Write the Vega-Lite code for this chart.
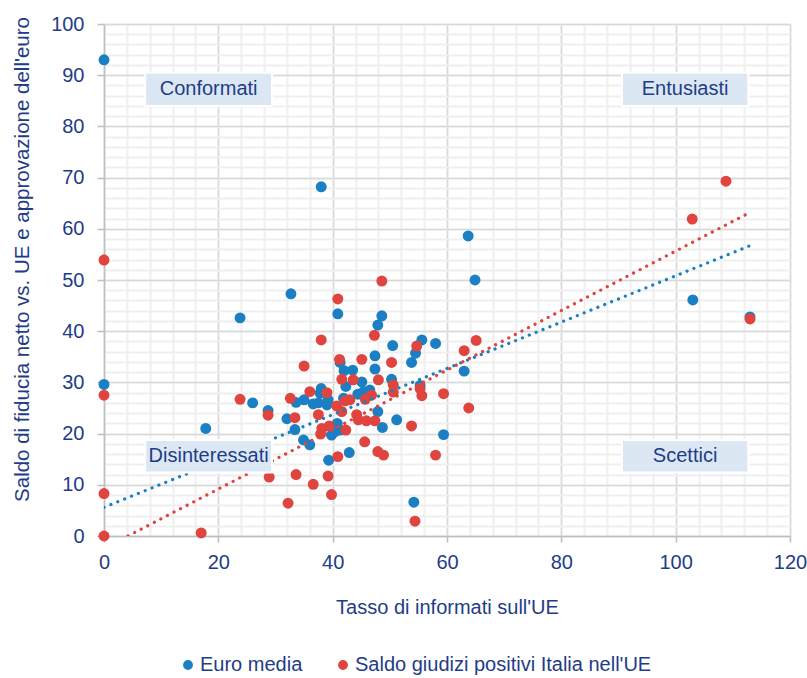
{
  "$schema": "https://vega.github.io/schema/vega-lite/v6.json",
  "width": 686,
  "height": 512,
  "autosize": "none",
  "padding": {"left": 104, "top": 24, "right": 17, "bottom": 142},
  "background": "white",
  "config": {
    "font": "Liberation Sans, Arial, sans-serif",
    "view": {"stroke": null}
  },
  "datasets": {
    "pts": [
      {"serie": "Euro media", "informati": 0, "saldo": 93},
      {"serie": "Euro media", "informati": 0, "saldo": 29.6},
      {"serie": "Euro media", "informati": 17.8, "saldo": 21},
      {"serie": "Euro media", "informati": 23.8, "saldo": 42.6},
      {"serie": "Euro media", "informati": 26, "saldo": 26},
      {"serie": "Euro media", "informati": 28.7, "saldo": 24.5},
      {"serie": "Euro media", "informati": 32, "saldo": 22.9},
      {"serie": "Euro media", "informati": 32.7, "saldo": 47.3},
      {"serie": "Euro media", "informati": 33.4, "saldo": 20.8},
      {"serie": "Euro media", "informati": 33.6, "saldo": 26.1},
      {"serie": "Euro media", "informati": 34.9, "saldo": 18.75},
      {"serie": "Euro media", "informati": 35, "saldo": 26.6},
      {"serie": "Euro media", "informati": 36, "saldo": 17.8},
      {"serie": "Euro media", "informati": 36.6, "saldo": 25.8},
      {"serie": "Euro media", "informati": 37.5, "saldo": 26},
      {"serie": "Euro media", "informati": 37.8, "saldo": 27.9},
      {"serie": "Euro media", "informati": 38, "saldo": 28.8},
      {"serie": "Euro media", "informati": 38, "saldo": 68.2},
      {"serie": "Euro media", "informati": 39, "saldo": 25.6},
      {"serie": "Euro media", "informati": 39.2, "saldo": 26.6},
      {"serie": "Euro media", "informati": 39.3, "saldo": 14.8},
      {"serie": "Euro media", "informati": 39.8, "saldo": 19.7},
      {"serie": "Euro media", "informati": 40.4, "saldo": 20.4},
      {"serie": "Euro media", "informati": 40.8, "saldo": 22},
      {"serie": "Euro media", "informati": 40.9, "saldo": 43.4},
      {"serie": "Euro media", "informati": 41.3, "saldo": 20.7},
      {"serie": "Euro media", "informati": 41.3, "saldo": 33.9},
      {"serie": "Euro media", "informati": 41.9, "saldo": 26.9},
      {"serie": "Euro media", "informati": 42, "saldo": 32.3},
      {"serie": "Euro media", "informati": 42.3, "saldo": 29.2},
      {"serie": "Euro media", "informati": 42.9, "saldo": 16.3},
      {"serie": "Euro media", "informati": 43.5, "saldo": 32.4},
      {"serie": "Euro media", "informati": 44.4, "saldo": 27.7},
      {"serie": "Euro media", "informati": 45.1, "saldo": 30.1},
      {"serie": "Euro media", "informati": 45.4, "saldo": 28.2},
      {"serie": "Euro media", "informati": 46.5, "saldo": 28.5},
      {"serie": "Euro media", "informati": 47.4, "saldo": 35.2},
      {"serie": "Euro media", "informati": 47.4, "saldo": 32.6},
      {"serie": "Euro media", "informati": 47.9, "saldo": 24.3},
      {"serie": "Euro media", "informati": 47.9, "saldo": 41.2},
      {"serie": "Euro media", "informati": 48.6, "saldo": 43},
      {"serie": "Euro media", "informati": 48.7, "saldo": 21.2},
      {"serie": "Euro media", "informati": 50.3, "saldo": 30.6},
      {"serie": "Euro media", "informati": 50.5, "saldo": 37.2},
      {"serie": "Euro media", "informati": 51.2, "saldo": 22.7},
      {"serie": "Euro media", "informati": 53.8, "saldo": 33.9},
      {"serie": "Euro media", "informati": 54.5, "saldo": 35.7},
      {"serie": "Euro media", "informati": 54.2, "saldo": 6.6},
      {"serie": "Euro media", "informati": 55.3, "saldo": 29.4},
      {"serie": "Euro media", "informati": 55.6, "saldo": 38.3},
      {"serie": "Euro media", "informati": 58, "saldo": 37.6},
      {"serie": "Euro media", "informati": 59.4, "saldo": 19.8},
      {"serie": "Euro media", "informati": 63, "saldo": 32.2},
      {"serie": "Euro media", "informati": 63.7, "saldo": 58.6},
      {"serie": "Euro media", "informati": 64.9, "saldo": 50},
      {"serie": "Euro media", "informati": 103, "saldo": 46.1},
      {"serie": "Euro media", "informati": 113, "saldo": 42.8},
      {"serie": "Saldo giudizi positivi Italia nell'UE", "informati": 0, "saldo": 53.9},
      {"serie": "Saldo giudizi positivi Italia nell'UE", "informati": 0, "saldo": 27.5},
      {"serie": "Saldo giudizi positivi Italia nell'UE", "informati": 0, "saldo": 8.3},
      {"serie": "Saldo giudizi positivi Italia nell'UE", "informati": 0, "saldo": 0},
      {"serie": "Saldo giudizi positivi Italia nell'UE", "informati": 17, "saldo": 0.6},
      {"serie": "Saldo giudizi positivi Italia nell'UE", "informati": 23.8, "saldo": 26.7},
      {"serie": "Saldo giudizi positivi Italia nell'UE", "informati": 28.7, "saldo": 23.6},
      {"serie": "Saldo giudizi positivi Italia nell'UE", "informati": 28.9, "saldo": 11.5},
      {"serie": "Saldo giudizi positivi Italia nell'UE", "informati": 32.2, "saldo": 6.4},
      {"serie": "Saldo giudizi positivi Italia nell'UE", "informati": 32.6, "saldo": 26.9},
      {"serie": "Saldo giudizi positivi Italia nell'UE", "informati": 33.4, "saldo": 23.1},
      {"serie": "Saldo giudizi positivi Italia nell'UE", "informati": 33.6, "saldo": 12},
      {"serie": "Saldo giudizi positivi Italia nell'UE", "informati": 35, "saldo": 33.2},
      {"serie": "Saldo giudizi positivi Italia nell'UE", "informati": 36, "saldo": 28.2},
      {"serie": "Saldo giudizi positivi Italia nell'UE", "informati": 36.6, "saldo": 10.1},
      {"serie": "Saldo giudizi positivi Italia nell'UE", "informati": 37.5, "saldo": 23.7},
      {"serie": "Saldo giudizi positivi Italia nell'UE", "informati": 37.9, "saldo": 19.9},
      {"serie": "Saldo giudizi positivi Italia nell'UE", "informati": 38, "saldo": 38.3},
      {"serie": "Saldo giudizi positivi Italia nell'UE", "informati": 38.1, "saldo": 21},
      {"serie": "Saldo giudizi positivi Italia nell'UE", "informati": 39, "saldo": 28},
      {"serie": "Saldo giudizi positivi Italia nell'UE", "informati": 39.2, "saldo": 11.7},
      {"serie": "Saldo giudizi positivi Italia nell'UE", "informati": 39.4, "saldo": 21.5},
      {"serie": "Saldo giudizi positivi Italia nell'UE", "informati": 39.8, "saldo": 8.1},
      {"serie": "Saldo giudizi positivi Italia nell'UE", "informati": 40.7, "saldo": 25.4},
      {"serie": "Saldo giudizi positivi Italia nell'UE", "informati": 40.9, "saldo": 15.5},
      {"serie": "Saldo giudizi positivi Italia nell'UE", "informati": 40.9, "saldo": 46.3},
      {"serie": "Saldo giudizi positivi Italia nell'UE", "informati": 41.2, "saldo": 34.5},
      {"serie": "Saldo giudizi positivi Italia nell'UE", "informati": 41.6, "saldo": 30.6},
      {"serie": "Saldo giudizi positivi Italia nell'UE", "informati": 41.6, "saldo": 24.3},
      {"serie": "Saldo giudizi positivi Italia nell'UE", "informati": 42.2, "saldo": 26.4},
      {"serie": "Saldo giudizi positivi Italia nell'UE", "informati": 42.3, "saldo": 20.7},
      {"serie": "Saldo giudizi positivi Italia nell'UE", "informati": 43, "saldo": 26.6},
      {"serie": "Saldo giudizi positivi Italia nell'UE", "informati": 43.6, "saldo": 30.5},
      {"serie": "Saldo giudizi positivi Italia nell'UE", "informati": 44.2, "saldo": 23.7},
      {"serie": "Saldo giudizi positivi Italia nell'UE", "informati": 44.5, "saldo": 22.7},
      {"serie": "Saldo giudizi positivi Italia nell'UE", "informati": 45.1, "saldo": 34.5},
      {"serie": "Saldo giudizi positivi Italia nell'UE", "informati": 45.6, "saldo": 18.4},
      {"serie": "Saldo giudizi positivi Italia nell'UE", "informati": 45.7, "saldo": 26.7},
      {"serie": "Saldo giudizi positivi Italia nell'UE", "informati": 45.9, "saldo": 22.5},
      {"serie": "Saldo giudizi positivi Italia nell'UE", "informati": 46.8, "saldo": 27.5},
      {"serie": "Saldo giudizi positivi Italia nell'UE", "informati": 47.3, "saldo": 39.2},
      {"serie": "Saldo giudizi positivi Italia nell'UE", "informati": 47.4, "saldo": 22.5},
      {"serie": "Saldo giudizi positivi Italia nell'UE", "informati": 47.9, "saldo": 16.5},
      {"serie": "Saldo giudizi positivi Italia nell'UE", "informati": 48, "saldo": 30.5},
      {"serie": "Saldo giudizi positivi Italia nell'UE", "informati": 48.6, "saldo": 49.8},
      {"serie": "Saldo giudizi positivi Italia nell'UE", "informati": 48.9, "saldo": 15.8},
      {"serie": "Saldo giudizi positivi Italia nell'UE", "informati": 50.3, "saldo": 33.9},
      {"serie": "Saldo giudizi positivi Italia nell'UE", "informati": 50.6, "saldo": 29.5},
      {"serie": "Saldo giudizi positivi Italia nell'UE", "informati": 50.6, "saldo": 28.1},
      {"serie": "Saldo giudizi positivi Italia nell'UE", "informati": 53.8, "saldo": 21.5},
      {"serie": "Saldo giudizi positivi Italia nell'UE", "informati": 54.4, "saldo": 2.9},
      {"serie": "Saldo giudizi positivi Italia nell'UE", "informati": 54.7, "saldo": 37.1},
      {"serie": "Saldo giudizi positivi Italia nell'UE", "informati": 55.3, "saldo": 28.8},
      {"serie": "Saldo giudizi positivi Italia nell'UE", "informati": 55.6, "saldo": 27.4},
      {"serie": "Saldo giudizi positivi Italia nell'UE", "informati": 58, "saldo": 15.8},
      {"serie": "Saldo giudizi positivi Italia nell'UE", "informati": 59.4, "saldo": 27.8},
      {"serie": "Saldo giudizi positivi Italia nell'UE", "informati": 63, "saldo": 36.2},
      {"serie": "Saldo giudizi positivi Italia nell'UE", "informati": 63.8, "saldo": 25},
      {"serie": "Saldo giudizi positivi Italia nell'UE", "informati": 65.1, "saldo": 38.2},
      {"serie": "Saldo giudizi positivi Italia nell'UE", "informati": 102.9, "saldo": 61.9},
      {"serie": "Saldo giudizi positivi Italia nell'UE", "informati": 108.8, "saldo": 69.3},
      {"serie": "Saldo giudizi positivi Italia nell'UE", "informati": 113, "saldo": 42.4}
    ],
    "trend": [
      {"serie": "Euro media", "informati": 0, "saldo": 5.6},
      {"serie": "Euro media", "informati": 113, "saldo": 56.7},
      {"serie": "Saldo giudizi positivi Italia nell'UE", "informati": 4.2, "saldo": 0},
      {"serie": "Saldo giudizi positivi Italia nell'UE", "informati": 113, "saldo": 63.2}
    ],
    "boxes": [
      {"label": "Conformati", "x1": 7.2, "x2": 29.4, "y1": 84.0, "y2": 90.5, "xc": 18.3, "yc": 87.25},
      {"label": "Entusiasti", "x1": 90.6, "x2": 112.7, "y1": 84.0, "y2": 90.5, "xc": 101.65, "yc": 87.25},
      {"label": "Disinteressati", "x1": 7.2, "x2": 29.4, "y1": 12.4, "y2": 18.75, "xc": 18.3, "yc": 15.6},
      {"label": "Scettici", "x1": 90.6, "x2": 112.7, "y1": 12.4, "y2": 18.75, "xc": 101.65, "yc": 15.6}
    ]
  },
  "layer": [
    {
      "data": {"name": "pts"},
      "mark": {"type": "point", "opacity": 0},
      "encoding": {
        "x": {
          "field": "informati", "type": "quantitative",
          "scale": {"domain": [0, 120], "nice": false, "zero": false},
          "axis": {
            "orient": "top", "values": [0,4,8,12,16,20,24,28,32,36,40,44,48,52,56,60,64,68,72,76,80,84,88,92,96,100,104,108,112,116,120],
            "grid": true, "gridColor": "#efefef", "gridWidth": 2,
            "labels": false, "ticks": false, "domain": false, "title": null
          }
        },
        "y": {
          "field": "saldo", "type": "quantitative",
          "scale": {"domain": [0, 100], "nice": false},
          "axis": {
            "orient": "right", "values": [0,2,4,6,8,10,12,14,16,18,20,22,24,26,28,30,32,34,36,38,40,42,44,46,48,50,52,54,56,58,60,62,64,66,68,70,72,74,76,78,80,82,84,86,88,90,92,94,96,98,100],
            "grid": true, "gridColor": "#efefef", "gridWidth": 2,
            "labels": false, "ticks": false, "domain": false, "title": null
          }
        }
      }
    },
    {
      "data": {"name": "pts"},
      "mark": {"type": "circle", "size": 120, "opacity": 1},
      "encoding": {
        "x": {
          "field": "informati", "type": "quantitative",
          "axis": {
            "orient": "bottom", "values": [0, 20, 40, 60, 80, 100, 120],
            "grid": true, "gridColor": "#d9d9d9", "gridWidth": 1.5,
            "domainColor": "#bfbfbf", "domainWidth": 1.5,
            "tickColor": "#bfbfbf", "tickSize": 6, "tickWidth": 1.5,
            "labelFontSize": 20, "labelColor": "#1f3c88", "labelPadding": 10, "labelFlush": false, "labelOverlap": false,
            "title": "Tasso di informati sull'UE",
            "titleFontSize": 20, "titleFontWeight": "normal", "titleColor": "#1f3c88",
            "titleX": 343, "titleY": 71, "titleBaseline": "middle", "titleAnchor": null, "titleAlign": "center"
          }
        },
        "y": {
          "field": "saldo", "type": "quantitative",
          "axis": {
            "orient": "left", "values": [0, 10, 20, 30, 40, 50, 60, 70, 80, 90, 100],
            "grid": true, "gridColor": "#d9d9d9", "gridWidth": 1.5,
            "domainColor": "#bfbfbf", "domainWidth": 1.5,
            "tickColor": "#bfbfbf", "tickSize": 7, "tickWidth": 1.5,
            "labelFontSize": 20, "labelColor": "#1f3c88", "labelPadding": 13, "labelFlush": false, "labelOverlap": false,
            "title": "Saldo di fiducia netto vs. UE e approvazione dell'euro",
            "titleFontSize": 20.5, "titleFontWeight": "normal", "titleColor": "#1f3c88", "titleLimit": 600,
            "titleX": -82, "titleY": 235, "titleAngle": 270, "titleBaseline": "middle", "titleAlign": "center", "titleAnchor": null
          }
        },
        "color": {
          "field": "serie", "type": "nominal",
          "scale": {"domain": ["Euro media", "Saldo giudizi positivi Italia nell'UE"], "range": ["#1b7fc3", "#e0443e"]},
          "legend": {
            "orient": "none", "direction": "horizontal", "legendX": 74, "legendY": 631,
            "title": null, "symbolType": "circle", "symbolSize": 70, "symbolOpacity": 1,
            "labelFontSize": 20, "labelColor": "#1f3c88", "labelOffset": 2, "columnPadding": 30, "labelLimit": 500
          }
        }
      }
    },
    {
      "data": {"name": "trend"},
      "mark": {"type": "line", "strokeWidth": 3.2, "strokeDash": [0.1, 7.3], "strokeCap": "round", "clip": true},
      "encoding": {
        "x": {"field": "informati", "type": "quantitative", "axis": null},
        "y": {"field": "saldo", "type": "quantitative", "axis": null},
        "detail": {"field": "serie"},
        "stroke": {
          "field": "serie", "type": "nominal",
          "scale": {"domain": ["Euro media", "Saldo giudizi positivi Italia nell'UE"], "range": ["#1b7fc3", "#e0443e"]},
          "legend": null
        }
      }
    },
    {
      "data": {"name": "boxes"},
      "mark": {"type": "rect", "fill": "#dbe8f4", "stroke": "white", "strokeWidth": 2},
      "encoding": {
        "x": {"field": "x1", "type": "quantitative", "axis": null},
        "x2": {"field": "x2"},
        "y": {"field": "y1", "type": "quantitative", "axis": null},
        "y2": {"field": "y2"}
      }
    },
    {
      "data": {"name": "boxes"},
      "mark": {"type": "text", "fontSize": 20, "color": "#1f3c88", "align": "center", "baseline": "middle"},
      "encoding": {
        "x": {"field": "xc", "type": "quantitative", "axis": null},
        "y": {"field": "yc", "type": "quantitative", "axis": null},
        "text": {"field": "label"}
      }
    }
  ],
  "resolve": {"axis": {"x": "independent", "y": "independent"}}
}
